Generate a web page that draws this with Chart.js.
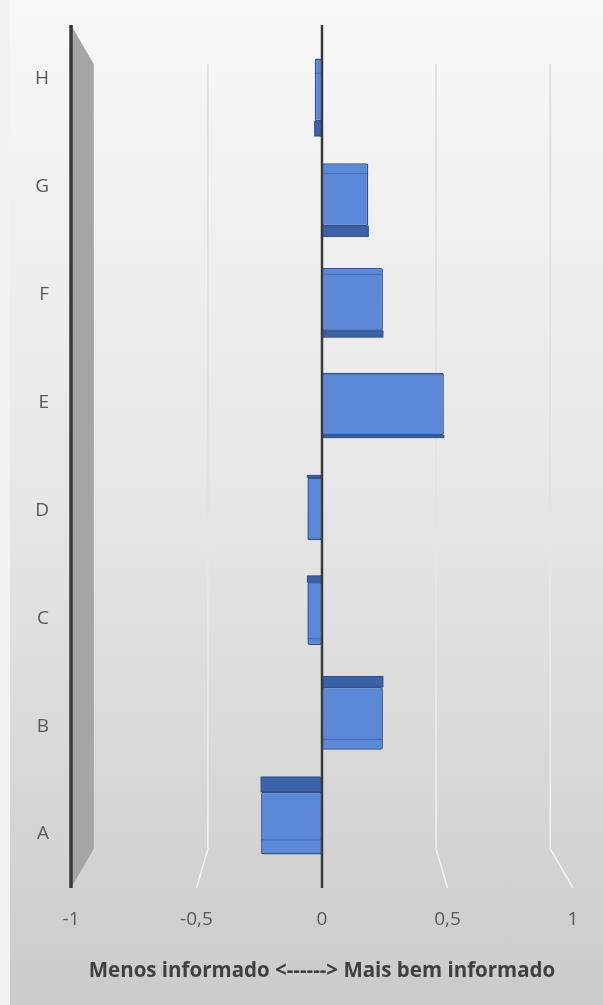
<!DOCTYPE html>
<html>
<head>
<meta charset="utf-8">
<script src="https://cdn.jsdelivr.net/npm/chart.js@4/dist/chart.umd.min.js"></script>
<style>
  body { margin: 0; background: #f2f2f2; }
  #caixa {
    position: absolute; left: 10px; top: 0; width: 593px; height: 1005px;
    background: linear-gradient(to bottom, #f8f8f8 0%, #e6e6e6 50%, #cbcbcb 100%);
  }
</style>
</head>
<body>
<div id="caixa"><canvas id="grafico" width="593" height="1005"></canvas></div>
<script>
// dados (de baixo para cima)
const categorias = ['A', 'B', 'C', 'D', 'E', 'F', 'G', 'H'];
const valores = [-0.25, 0.25, -0.06, -0.06, 0.5, 0.25, 0.19, -0.03];
const ticksX = [-1, -0.5, 0, 0.5, 1];
const tituloX = 'Menos informado <------> Mais bem informado';

const corTexto = '#595959';
const corEixo = '#3a3a3a';

// desenha parede, grades em perspectiva e faces 3D das barras
const cena3d = {
  id: 'cena3d',
  beforeDatasetsDraw(chart) {
    const ctx = chart.ctx;
    const area = chart.chartArea;
    const xf = chart.scales.xf, xb = chart.scales.xb;
    const meio = (area.top + area.bottom) / 2;
    const fator = (xb.getPixelForValue(1) - xb.getPixelForValue(0)) / (xf.getPixelForValue(1) - xf.getPixelForValue(0));
    const fundoTopo = meio - (meio - area.top) * fator;
    const fundoBase = meio + (area.bottom - meio) * fator;
    ctx.save();
    // parede lateral esquerda
    ctx.fillStyle = '#a5a5a5';
    ctx.beginPath();
    ctx.moveTo(area.left, area.top);
    ctx.lineTo(xb.getPixelForValue(-1), fundoTopo);
    ctx.lineTo(xb.getPixelForValue(-1), fundoBase);
    ctx.lineTo(area.left, area.bottom);
    ctx.closePath();
    ctx.fill();
    // linhas de grade
    const grad = ctx.createLinearGradient(0, area.top, 0, area.bottom);
    grad.addColorStop(0, '#d8d8d8');
    grad.addColorStop(0.55, '#e2e2e2');
    grad.addColorStop(1, '#f4f4f4');
    ctx.strokeStyle = grad;
    ctx.lineWidth = 1.5;
    ticksX.forEach(v => {
      if (v === -1 || v === 0) return;
      ctx.beginPath();
      ctx.moveTo(xb.getPixelForValue(v), fundoTopo);
      ctx.lineTo(xb.getPixelForValue(v), fundoBase);
      ctx.lineTo(xf.getPixelForValue(v), area.bottom);
      ctx.stroke();
    });
    ctx.restore();
  },
  afterDatasetsDraw(chart) {
    const ctx = chart.ctx;
    const area = chart.chartArea;
    const meio = (area.top + area.bottom) / 2;
    const meta = chart.getDatasetMeta(0);
    ctx.save();
    meta.data.forEach(bar => {
      const esq = Math.min(bar.x, bar.base), dir = Math.max(bar.x, bar.base);
      const topo = bar.y - bar.height / 2, base = bar.y + bar.height / 2;
      const h = Math.abs(bar.y - meio) * 0.04;
      if (h < 1) return;
      ctx.fillStyle = '#3d61a6';
      ctx.strokeStyle = '#2f4f8f';
      ctx.lineWidth = 1;
      if (bar.y > meio) {
        ctx.fillRect(esq, topo - h, dir - esq, h);
        ctx.strokeRect(esq, topo - h, dir - esq, h);
        ctx.strokeStyle = 'rgba(40,70,140,0.45)';
        ctx.beginPath();
        ctx.moveTo(esq, base - h);
        ctx.lineTo(dir, base - h);
        ctx.stroke();
      } else {
        ctx.fillRect(esq, base, dir - esq, h);
        ctx.strokeRect(esq, base, dir - esq, h);
        ctx.strokeStyle = 'rgba(40,70,140,0.45)';
        ctx.beginPath();
        ctx.moveTo(esq, topo + h);
        ctx.lineTo(dir, topo + h);
        ctx.stroke();
      }
    });
    // eixo vertical esquerdo e linha do zero
    const xf = chart.scales.xf;
    ctx.strokeStyle = corEixo;
    ctx.lineWidth = 3.5;
    ctx.beginPath();
    ctx.moveTo(area.left, area.top);
    ctx.lineTo(area.left, area.bottom);
    ctx.stroke();
    ctx.lineWidth = 2.5;
    ctx.beginPath();
    ctx.moveTo(xf.getPixelForValue(0), area.top);
    ctx.lineTo(xf.getPixelForValue(0), area.bottom);
    ctx.stroke();
    ctx.restore();
  }
};

const dadosBarras = valores.map((v, i) => ({ x: v, y: i }));

new Chart(document.getElementById('grafico'), {
  type: 'bar',
  data: {
    labels: categorias,
    datasets: [{
      data: dadosBarras,
      xAxisID: 'x',
      yAxisID: 'yb',
      backgroundColor: '#5b89d8',
      borderColor: '#2f528f',
      borderWidth: 1.5,
      borderSkipped: false,
      borderRadius: 2,
      barPercentage: 0.6,
      categoryPercentage: 1
    }]
  },
  options: {
    indexAxis: 'y',
    responsive: false,
    animation: false,
    layout: { padding: { top: 25, right: 30, left: 0, bottom: 0 } },
    plugins: { legend: { display: false }, tooltip: { enabled: false } },
    scales: {
      y: {
        type: 'category',
        reverse: true,
        position: 'left',
        grid: { display: false, drawTicks: false },
        border: { display: false },
        ticks: { color: corTexto, padding: 22, font: { family: 'Open Sans', size: 19 } },
        afterFit(scale) {
          scale.width = 61;
          scale.paddingTop = 0;
          scale.paddingBottom = 0;
        }
      },
      yb: {
        type: 'linear',
        display: false,
        offset: false,
        min: -0.62,
        max: 7.62,
        afterBuildTicks(scale) { scale.ticks = categorias.map((c, i) => ({ value: i })); }
      },
      x: {
        type: 'linear',
        display: false,
        offset: false,
        min: -1.03,
        max: 1.03
      },
      xb: {
        type: 'linear',
        display: false,
        offset: false,
        min: -1.1,
        max: 1.1
      },
      xf: {
        type: 'linear',
        position: 'bottom',
        offset: false,
        min: -1,
        max: 1,
        grid: { display: false, drawTicks: false },
        border: { display: false },
        afterBuildTicks(scale) { scale.ticks = ticksX.map(v => ({ value: v })); },
        ticks: {
          color: corTexto,
          padding: 20,
          font: { family: 'Open Sans', size: 19 },
          callback: v => String(v).replace('.', ',')
        },
        title: {
          display: true,
          text: tituloX,
          color: '#404040',
          font: { family: 'Open Sans', size: 20.5, weight: 'bold' },
          padding: { top: 24, bottom: 22 }
        },
        afterFit(scale) { scale.height = 117; }
      }
    }
  },
  plugins: [cena3d]
});
</script>
</body>
</html>
